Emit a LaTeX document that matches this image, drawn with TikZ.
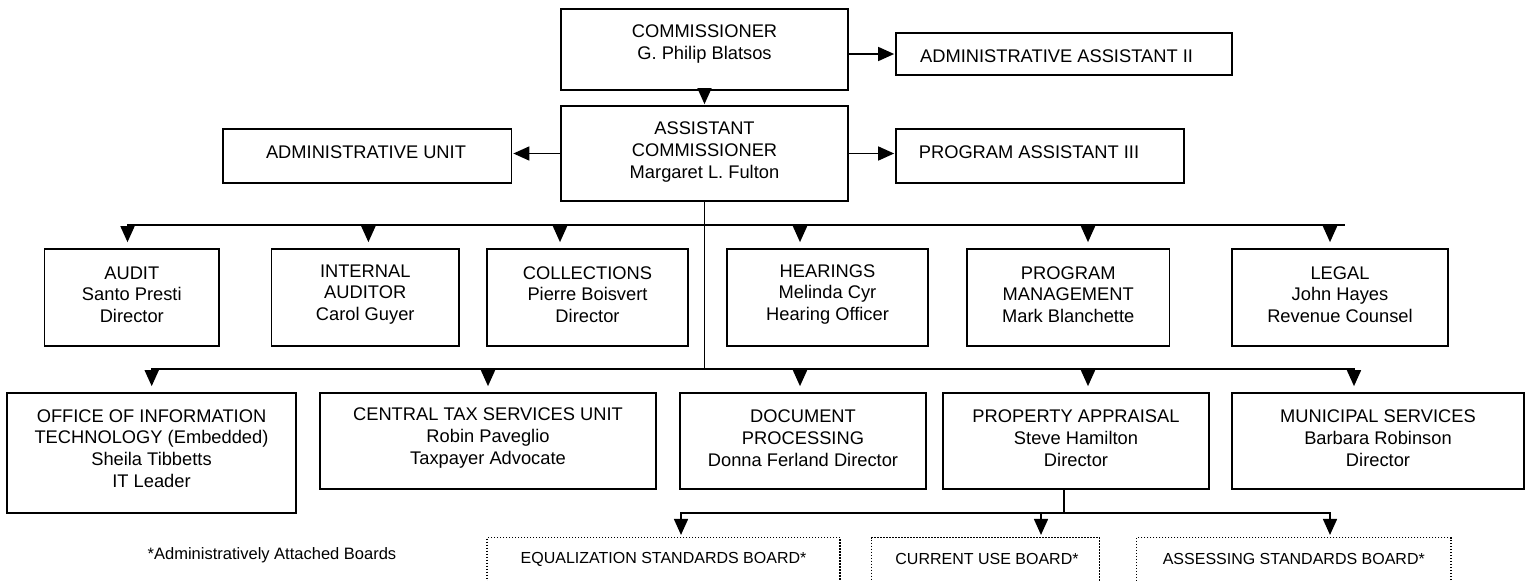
\documentclass[tikz,border=0pt]{standalone}
\usepackage{fontspec}
\setmainfont{Liberation Sans}
\usetikzlibrary{arrows.meta}
\begin{document}
\begin{tikzpicture}[x=1pt,y=-1pt,
  box/.style={draw, line width=1.7pt, rectangle, inner sep=0pt},
  dbox/.style={draw, line width=1.5pt, dash pattern=on 1.5pt off 1.5pt, rectangle, inner sep=0pt},
  txt/.style={align=center, inner sep=0pt, font=\fontsize{18.3}{21.7}\selectfont},
  btxt/.style={inner sep=0pt, font=\fontsize{16}{19}\selectfont},
  conn/.style={line width=1.6pt, line cap=rect},
  arr/.style={line width=1.6pt, line cap=rect, -{Triangle[length=16pt,width=14pt]}, shorten >=6pt},
]
\useasboundingbox (0,0) rectangle (1527,581);
\clip (0,0) rectangle (1527,581);

% ---- top level boxes
\node[box, minimum width=287pt, minimum height=81pt] (comm) at (704.5,49.5) {};
\node[txt] (commT) at (704.5,44) {COMMISSIONER\\G. Philip Blatsos};
\node[box, minimum width=336pt, minimum height=42pt] (aa2) at (1064,54) {};
\node[txt] (aa2T) at (1056.5,56) {ADMINISTRATIVE ASSISTANT II};
\node[box, minimum width=287pt, minimum height=95pt] (ac) at (704.5,153.5) {};
\node[txt] (acT) at (704.5,152) {ASSISTANT\\COMMISSIONER\\Margaret L. Fulton};
\node[box, minimum width=288.5pt, minimum height=54pt] (au) at (367.25,156) {};
\node[txt] (auT) at (366,152) {ADMINISTRATIVE UNIT};
\node[box, minimum width=288pt, minimum height=54pt] (pa3) at (1040,156) {};
\node[txt] (pa3T) at (1029,152) {PROGRAM ASSISTANT III};

% ---- row 1
\node[box, minimum width=174.4pt, minimum height=97pt] (audit) at (131.8,297.5) {};
\node[txt] (auditT) at (131.8,294.5) {AUDIT\\Santo Presti\\Director};
\node[box, minimum width=187.5pt, minimum height=97pt] (ia) at (365.25,297.5) {};
\node[txt] (iaT) at (365.25,294.5) {INTERNAL\\AUDITOR\\Carol Guyer};
\node[box, minimum width=201pt, minimum height=97pt] (coll) at (587.5,297.5) {};
\node[txt] (collT) at (587.5,294.5) {COLLECTIONS\\Pierre Boisvert\\Director};
\node[box, minimum width=201pt, minimum height=97pt] (hear) at (827.5,297.5) {};
\node[txt] (hearT) at (827.5,294.5) {HEARINGS\\Melinda Cyr\\Hearing Officer};
\node[box, minimum width=202.5pt, minimum height=97pt] (pm) at (1068.25,297.5) {};
\node[txt] (pmT) at (1068.25,294.5) {PROGRAM\\MANAGEMENT\\Mark Blanchette};
\node[box, minimum width=216pt, minimum height=97pt] (legal) at (1340,297.5) {};
\node[txt] (legalT) at (1340,294.5) {LEGAL\\John Hayes\\Revenue Counsel};

% ---- row 2
\node[box, minimum width=289pt, minimum height=120pt] (oit) at (151.5,453) {};
\node[txt] (oitT) at (151.5,448.5) {OFFICE OF INFORMATION\\TECHNOLOGY (Embedded)\\Sheila Tibbetts\\IT Leader};
\node[box, minimum width=336pt, minimum height=96pt] (cts) at (488,441) {};
\node[txt] (ctsT) at (488,438) {CENTRAL TAX SERVICES UNIT\\Robin Paveglio\\Taxpayer Advocate};
\node[box, minimum width=246pt, minimum height=96pt] (dp) at (803,441) {};
\node[txt] (dpT) at (803,438) {DOCUMENT\\PROCESSING\\Donna Ferland Director};
\node[box, minimum width=266pt, minimum height=96pt] (pap) at (1076,441) {};
\node[txt] (papT) at (1076,438) {PROPERTY APPRAISAL\\Steve Hamilton\\Director};
\node[box, minimum width=292pt, minimum height=96pt] (ms) at (1378,441) {};
\node[txt] (msT) at (1378,438) {MUNICIPAL SERVICES\\Barbara Robinson\\Director};

% ---- boards (cut off by the page bottom)
\node[dbox, minimum width=353pt, minimum height=82pt] (eq) at (663.5,578.7) {};
\node[btxt] (eqT) at (663.5,559) {EQUALIZATION STANDARDS BOARD*};
\node[dbox, minimum width=228pt, minimum height=82pt] (cu) at (985.5,578.7) {};
\node[btxt] (cuT) at (987,559) {CURRENT USE BOARD*};
\node[dbox, minimum width=314.4pt, minimum height=82pt] (as) at (1293.8,578.7) {};
\node[btxt] (asT) at (1293.8,559) {ASSESSING STANDARDS BOARD*};

\node[btxt, font=\fontsize{16.5}{19}\selectfont] (note) at (272,555) {*Administratively Attached Boards};

% ---- connectors, top
\draw[arr, shorten >=1pt] (comm.south) -- (ac.north);
\draw[arr, shorten >=1pt] (comm.east |- aa2.west) -- (aa2.west);
\draw[arr, shorten >=1pt] (ac.west) -- (ac.west -| au.east);
\draw[arr, shorten >=1pt] (ac.east) -- (ac.east -| pa3.west);

% ---- trunk and row lines
\coordinate (r1L) at (127.5,225);
\coordinate (r1R) at (1344,225);
\coordinate (r2L) at (151.7,369);
\coordinate (r2R) at (1354,369);
\draw[conn] (ac.south) -- (ac.south |- r2L);
\draw[arr] (r1R) -- (r1L) -- (r1L |- audit.north);
\coordinate (a1) at (368.4,225);
\coordinate (a2) at (560,225);
\coordinate (a3) at (800,225);
\coordinate (a4) at (1088,225);
\coordinate (a5) at (1330,225);
\draw[arr] (a1) -- (a1 |- ia.north);
\draw[arr] (a2) -- (a2 |- coll.north);
\draw[arr] (a3) -- (a3 |- hear.north);
\draw[arr] (a4) -- (a4 |- pm.north);
\draw[arr] (a5) -- (a5 |- legal.north);

\draw[arr] (r2L) -- (r2R) -- (r2R |- ms.north);
\draw[arr] (r2L) -- (r2L |- oit.north);
\coordinate (b1) at (488,369);
\coordinate (b2) at (800,369);
\coordinate (b3) at (1088,369);
\draw[arr] (b1) -- (b1 |- cts.north);
\draw[arr] (b2) -- (b2 |- dp.north);
\draw[arr] (b3) -- (b3 |- pap.north);

% ---- row 3
\coordinate (r3j) at (1064,513);
\coordinate (r3L) at (681,513);
\coordinate (r3R) at (1330,513);
\coordinate (r3m) at (1041,513);
\draw[conn] (pap.south -| r3j) -- (r3j);
\draw[arr, shorten >=2pt] (r3R) -- (r3L) -- (r3L |- eq.north);
\draw[arr, shorten >=2pt] (r3L) -- (r3R) -- (r3R |- as.north);
\draw[arr, shorten >=2pt] (r3m) -- (r3m |- cu.north);
\end{tikzpicture}
\end{document}
